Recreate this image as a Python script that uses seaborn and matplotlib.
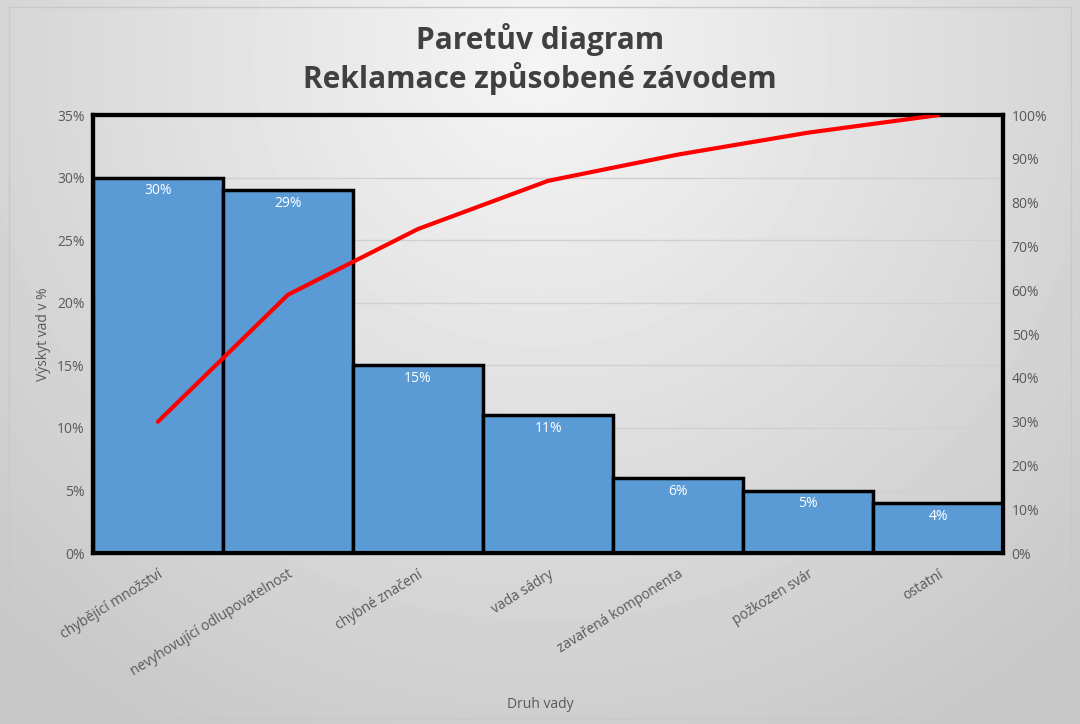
import numpy as np
import pandas as pd
import seaborn as sns
import matplotlib.pyplot as plt
from matplotlib.patches import Rectangle

categories = ["chybějící množství", "nevyhovující odlupovatelnost", "chybné značení",
              "vada sádry", "zavařená komponenta", "požkozen svár", "ostatní"]
share = [30, 29, 15, 11, 6, 5, 4]
cumulative = [30, 59, 74, 85, 91, 96, 100]

df = pd.DataFrame({"druh": categories, "podil": share, "kumul": cumulative})

sns.set_theme(style="white")
plt.rcParams["font.family"] = ["Open Sans", "DejaVu Sans"]

fig = plt.figure(figsize=(10.8, 7.24), dpi=100)

# background gradient
bg = fig.add_axes([0, 0, 1, 1], zorder=-10)
yy, xx = np.mgrid[0:724, 0:1080]
r = np.sqrt(((xx - 540) / 700) ** 2 + ((yy - 60) / 700) ** 2)
grad = np.clip(0.96 - 0.16 * r, 0.78, 0.96)
bg.imshow(grad, cmap="gray", vmin=0, vmax=1, aspect="auto", extent=[0, 1, 0, 1])
bg.axis("off")
fig.patches.append(Rectangle((0.008, 0.008), 0.984, 0.982, transform=fig.transFigure,
                             fill=False, edgecolor="#c8c8c8", linewidth=1))

ax = fig.add_axes([0.086, 0.236, 0.843, 0.605])
ax.set_facecolor("none")
sns.barplot(data=df, x="druh", y="podil", color="#5B9BD5", saturation=1,
            width=1.0, edgecolor="black", linewidth=2.5, ax=ax, zorder=3)
ax.set_ylim(0, 35)
ax.set_xlim(-0.5, 6.5)
ax.set_yticks(range(0, 36, 5))
ax.set_yticklabels([f"{v}%" for v in range(0, 36, 5)], color="#595959", fontsize=10)
ax.grid(axis="y", color="#d0d0d0", linewidth=1, zorder=0)
ax.set_axisbelow(True)
for s in ax.spines.values():
    s.set_color("black")
    s.set_linewidth(3)
ax.tick_params(axis="y", length=0, pad=6)
ax.set_xticks(range(len(categories)))
ax.set_xticklabels(categories, rotation=32, ha="right", rotation_mode="anchor",
                   color="#595959", fontsize=10)
ax.tick_params(axis="x", length=0, pad=10)
ax.set_xticks(np.arange(-0.5, 7, 1), minor=True)
ax.tick_params(axis="x", which="minor", length=5, width=1, color="#404040", direction="in")
ax.set_xlabel("")
ax.set_ylabel("Výskyt vad v %", color="#595959", fontsize=10, labelpad=4)
fig.text(0.5, 0.027, "Druh vady", ha="center", va="center", color="#595959", fontsize=10)

for i, v in enumerate(share):
    ax.annotate(f"{v}%", (i, v), xytext=(0, -4), textcoords="offset points",
                ha="center", va="top", color="white", fontsize=10, zorder=5)

ax2 = ax.twinx()
sns.lineplot(x=list(range(len(categories))), y=cumulative, color="#FF0000",
             linewidth=3, ax=ax2, zorder=6)
ax2.set_ylim(0, 100)
ax2.set_yticks(range(0, 101, 10))
ax2.set_yticklabels([f"{v}%" for v in range(0, 101, 10)], color="#595959", fontsize=10)
ax2.tick_params(axis="y", length=0, pad=6)
for s in ax2.spines.values():
    s.set_color("black")
    s.set_linewidth(3)
ax2.grid(False)

fig.text(0.5, 0.945, "Paretův diagram", ha="center", va="center",
         fontsize=21.5, fontweight="bold", color="#404040")
fig.text(0.5, 0.891, "Reklamace způsobené závodem", ha="center", va="center",
         fontsize=21.5, fontweight="bold", color="#404040")

fig.savefig("out.png", dpi=100)
